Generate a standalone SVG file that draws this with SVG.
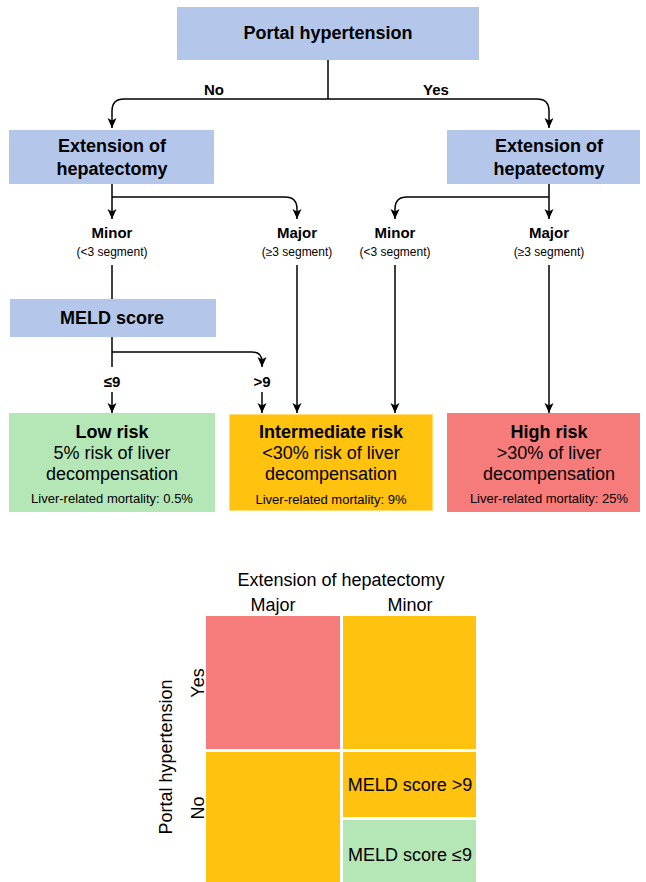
<svg xmlns="http://www.w3.org/2000/svg" width="646" height="882" viewBox="0 0 646 882">
<defs>
<marker id="arr" markerWidth="12" markerHeight="12" refX="10" refY="5" orient="auto" markerUnits="userSpaceOnUse">
<path d="M0,0.5 L10,5 L0,9.5 L2.5,5 Z" fill="#000"/>
</marker>
<style>
text{font-family:"Liberation Sans",Arial,sans-serif;fill:#000;text-anchor:middle}
.b18{font-size:18px;font-weight:bold}
.r18{font-size:18px}
.b15{font-size:15px;font-weight:bold}
.r12{font-size:12px}
.r13{font-size:13px}
.blue{fill:#B4C6EA}
.green{fill:#B5E6B5}
.yellow{fill:#FFC20E}
.red{fill:#F67C7C}
.c{fill:none;stroke:#000;stroke-width:1.5}
.ca{fill:none;stroke:#000;stroke-width:1.5;marker-end:url(#arr)}
</style>
</defs>
<rect width="646" height="882" fill="#fff"/>

<g id="connectors">
<path class="c" d="M328,60 V99"/>
<path class="ca" d="M328,99 H124 Q112,99 112,111 V128"/>
<path class="ca" d="M328,99 H537 Q549,99 549,111 V128"/>
<path class="ca" d="M112,184 V219"/>
<path class="ca" d="M112,197 H285 Q297,197 297,209 V219"/>
<path class="ca" d="M549,184 V219"/>
<path class="ca" d="M549,197 H407 Q395,197 395,209 V219"/>
<path class="c" d="M112,265 V299"/>
<path class="ca" d="M297,265 V413"/>
<path class="ca" d="M395,265 V413"/>
<path class="ca" d="M549,265 V413"/>
<path class="c" d="M112,337 V367"/>
<path class="ca" d="M112,352 H252 Q262,352 262,362 V367"/>
<path class="ca" d="M112,392 V413"/>
<path class="ca" d="M262,392 V413"/>
<text class="b15" x="214" y="95">No</text>
<text class="b15" x="436" y="95">Yes</text>
<text class="b15" x="112" y="387">≤9</text>
<text class="b15" x="262" y="387">&gt;9</text>
</g>

<g id="portal">
<rect class="blue" x="177" y="7" width="302" height="53"/>
<text class="b18" x="328" y="39">Portal hypertension</text>
</g>
<g id="ext-left">
<rect class="blue" x="9" y="130" width="205" height="54"/>
<text class="b18" x="112" y="152">Extension of</text>
<text class="b18" x="112" y="175">hepatectomy</text>
</g>
<g id="ext-right">
<rect class="blue" x="447" y="130" width="193" height="54"/>
<text class="b18" x="549" y="152">Extension of</text>
<text class="b18" x="549" y="175">hepatectomy</text>
</g>
<g id="minor-left">
<text class="b15" x="112" y="238">Minor</text>
<text class="r12" x="112" y="256">(&lt;3 segment)</text>
</g>
<g id="major-left">
<text class="b15" x="297" y="238">Major</text>
<text class="r12" x="297" y="256">(≥3 segment)</text>
</g>
<g id="minor-right">
<text class="b15" x="395" y="238">Minor</text>
<text class="r12" x="395" y="256">(&lt;3 segment)</text>
</g>
<g id="major-right">
<text class="b15" x="549" y="238">Major</text>
<text class="r12" x="549" y="256">(≥3 segment)</text>
</g>
<g id="meld">
<rect class="blue" x="10" y="299" width="206" height="38"/>
<text class="b18" x="112" y="324">MELD score</text>
</g>
<g id="low-risk">
<rect class="green" x="9" y="413" width="206" height="99"/>
<text class="b18" x="112" y="438">Low risk</text>
<text class="r18" x="112" y="459">5% risk of liver</text>
<text class="r18" x="112" y="480">decompensation</text>
<text class="r13" x="112" y="503">Liver-related mortality: 0.5%</text>
</g>
<g id="intermediate-risk">
<rect class="yellow" x="229.5" y="414.5" width="203" height="96" stroke="#FFDB70" stroke-width="1"/>
<text class="b18" x="331" y="438">Intermediate risk</text>
<text class="r18" x="331" y="459">&lt;30% risk of liver</text>
<text class="r18" x="331" y="480">decompensation</text>
<text class="r13" x="331" y="504">Liver-related mortality: 9%</text>
</g>
<g id="high-risk">
<rect class="red" x="447" y="413" width="193" height="99"/>
<text class="b18" x="549" y="438">High risk</text>
<text class="r18" x="549" y="459">&gt;30% of liver</text>
<text class="r18" x="549" y="480">decompensation</text>
<text class="r13" x="549" y="503">Liver-related mortality: 25%</text>
</g>

<g id="grid">
<text class="r18" x="341" y="586">Extension of hepatectomy</text>
<text class="r18" x="273" y="611">Major</text>
<text class="r18" x="410" y="611">Minor</text>
<text class="r18" transform="translate(165,757) rotate(-90)" y="6.5">Portal hypertension</text>
<text class="r18" transform="translate(197,683) rotate(-90)" y="6.5">Yes</text>
<text class="r18" transform="translate(197,808) rotate(-90)" y="6.5">No</text>
<rect class="red" x="206" y="616" width="134" height="133"/>
<rect class="yellow" x="343" y="616" width="133" height="133"/>
<rect class="yellow" x="206" y="752" width="134" height="130"/>
<rect class="yellow" x="343" y="752" width="133" height="65"/>
<text class="r18" x="410" y="791">MELD score &gt;9</text>
<rect class="green" x="343" y="820" width="133" height="62"/>
<text class="r18" x="410" y="861">MELD score ≤9</text>
</g>
</svg>
